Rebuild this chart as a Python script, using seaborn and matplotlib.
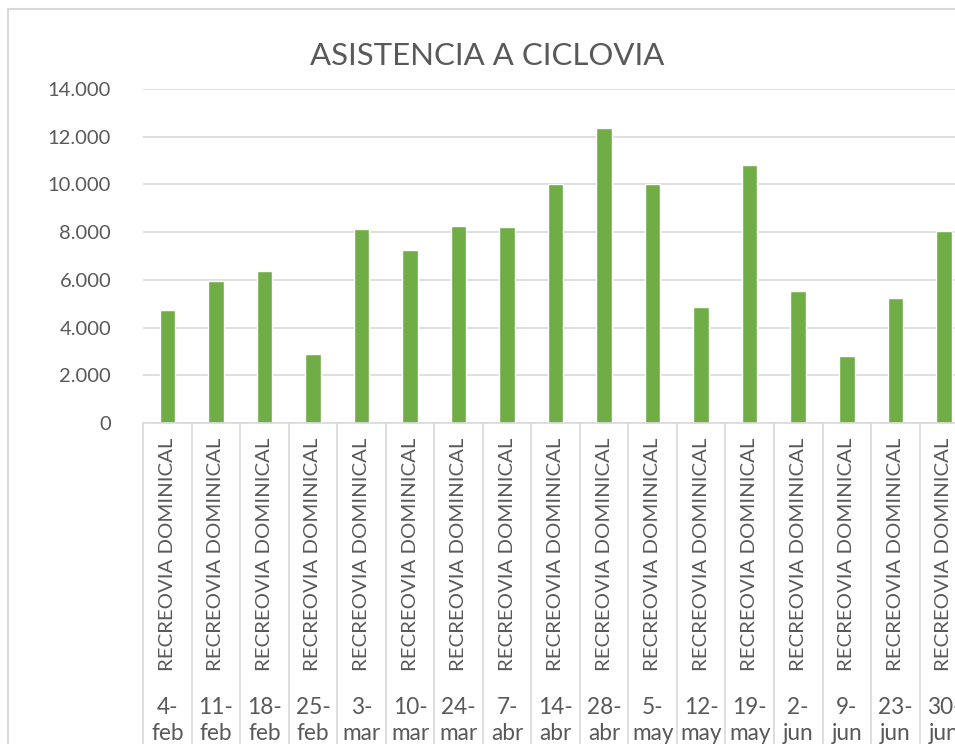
import matplotlib
matplotlib.use("Agg")
import matplotlib.pyplot as plt
import matplotlib.transforms as mtransforms
from matplotlib.patches import Rectangle
from matplotlib.lines import Line2D
from matplotlib.ticker import FuncFormatter
import pandas as pd
import seaborn as sns

# =========================================
# DATOS
# =========================================
fechas = ["4-feb", "11-feb", "18-feb", "25-feb", "3-mar", "10-mar", "24-mar",
          "7-abr", "14-abr", "28-abr", "5-may", "12-may", "19-may", "2-jun",
          "9-jun", "23-jun", "30-jun"]
actividad = "RECREOVIA DOMINICAL"
asistencia = [4720, 5950, 6390, 2880, 8140, 7270, 8265,
              8210, 10000, 12360, 10030, 4880, 10835, 5550,
              2795, 5245, 8030]

titulo = "ASISTENCIA A CICLOVIA"
yticks = [0, 2000, 4000, 6000, 8000, 10000, 12000, 14000]

df = pd.DataFrame({"fecha": fechas, "asistencia": asistencia})

# =========================================
# ESTILO
# =========================================
sns.set_theme(style="white")
plt.rcParams["font.family"] = ["Lato", "DejaVu Sans"]
gris_texto = "#595959"
gris_linea = "#d9d9d9"
verde = "#70ad47"

W, H = 955, 744
fig = plt.figure(figsize=(W / 100, H / 100), dpi=100)

# area del grafico (se sale por la derecha como en la captura)
x0, x1 = 143.1, 968.1
y_cero, y_top = 423, 89
ax = fig.add_axes([x0 / W, (H - y_cero) / H, (x1 - x0) / W, (y_cero - y_top) / H])

sns.barplot(data=df, x="fecha", y="asistencia", color=verde, width=0.32,
            saturation=1, ax=ax)

ax.set_ylim(0, 14000)
ax.set_xlim(-0.5, len(fechas) - 0.5)
ax.set_yticks(yticks)
ax.yaxis.set_major_formatter(FuncFormatter(lambda v, p: f"{int(v):,}".replace(",", ".")))
ax.tick_params(axis="y", labelsize=14.5, labelcolor=gris_texto, length=0, pad=23)
ax.set_xticks([])
ax.set_xlabel("")
ax.set_ylabel("")
ax.grid(axis="y", color=gris_linea, lw=1.2)
ax.set_axisbelow(True)
for lado in ["left", "right", "top"]:
    ax.spines[lado].set_visible(False)
ax.spines["bottom"].set_color(gris_linea)
ax.spines["bottom"].set_linewidth(1.2)

# =========================================
# EJE DE CATEGORIAS MULTINIVEL
# =========================================
trans = mtransforms.blended_transform_factory(ax.transData, fig.transFigure)
for i in range(len(fechas) + 1):
    ax.add_line(Line2D([i - 0.5, i - 0.5], [0, (H - y_cero) / H], transform=trans,
                       color=gris_linea, lw=1.2, clip_on=False))

for i, f in enumerate(fechas):
    dia, mes = f.split("-")
    ax.text(i, 1 - 554 / H, actividad, transform=trans, rotation=90,
            ha="center", va="center", fontsize=14.7, color=gris_texto, clip_on=False)
    ax.text(i, 1 - 708 / H, dia + "-", transform=trans, ha="center", va="center",
            fontsize=16.3, color=gris_texto, clip_on=False)
    ax.text(i, 1 - 734 / H, mes, transform=trans, ha="center", va="center",
            fontsize=16.3, color=gris_texto, clip_on=False)

# titulo y borde del grafico
fig.text(487 / W, 1 - 56 / H, titulo, ha="center", va="center",
         fontsize=22.4, color=gris_texto)
fig.patches.append(Rectangle((8 / W, -0.1), 1.1, 1 - 9 / H + 0.1, transform=fig.transFigure,
                             fill=False, edgecolor=gris_linea, lw=1.5))

fig.savefig("out.png", dpi=100)
